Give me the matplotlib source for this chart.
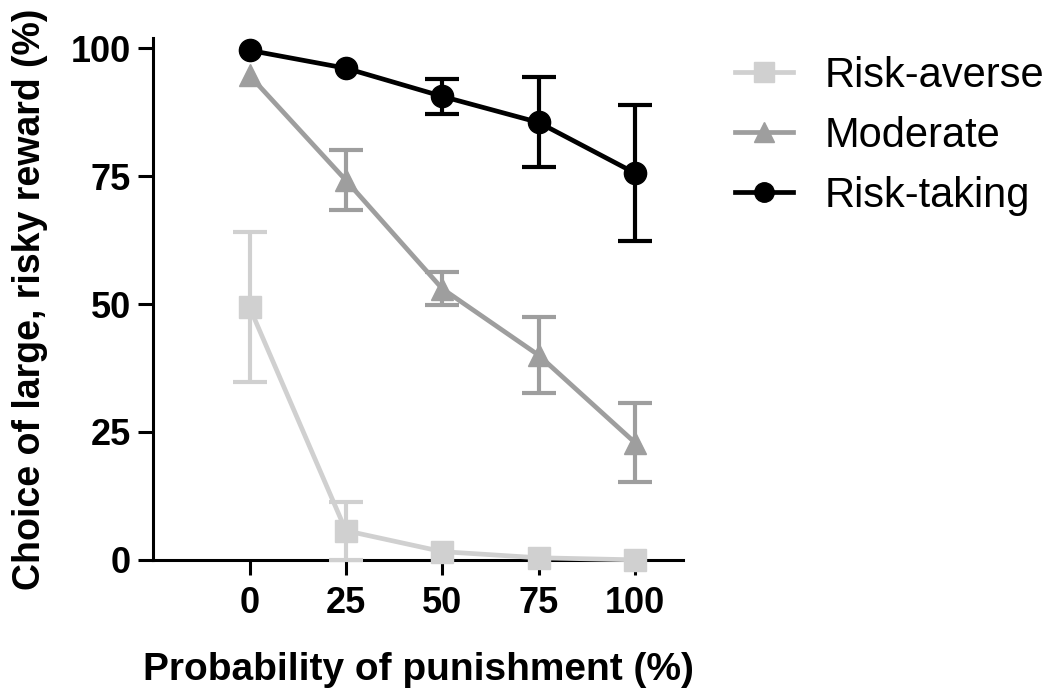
import matplotlib.pyplot as plt
from matplotlib.lines import Line2D

plt.rcParams['font.family'] = ['Liberation Sans', 'DejaVu Sans']

# Probability of punishment (%)
prob = [0, 25, 50, 75, 100]

# Mean choice of large, risky reward (%) and SEM per group (0 = bar hidden by marker)
averse_mean = [49.4, 5.7, 1.6, 0.4, 0.0]
averse_err = [14.6, 5.7, 0.0, 0.0, 0.0]

moderate_mean = [94.7, 74.2, 53.0, 40.0, 22.9]
moderate_err = [0.0, 5.9, 3.2, 7.4, 7.7]

taking_mean = [99.6, 96.1, 90.6, 85.5, 75.6]
taking_err = [0.0, 0.0, 3.4, 8.8, 13.3]

labels = ['Risk-averse', 'Moderate', 'Risk-taking']
colors = ['#d0d0d0', '#9e9e9e', '#000000']
markers = ['s', '^', 'o']

fig = plt.figure(figsize=(10.56, 6.92), dpi=100)
ax = fig.add_axes([0.145, 0.191, 0.502, 0.754])

series = [(averse_mean, averse_err), (moderate_mean, moderate_err), (taking_mean, taking_err)]
for i, (mean, err) in enumerate(series):
    # only draw bars where the SEM sticks out past the marker
    ex = [x for x, e in zip(prob, err) if e > 0]
    ey = [m for m, e in zip(mean, err) if e > 0]
    ee = [e for e in err if e > 0]
    ax.errorbar(ex, ey, yerr=ee, fmt='none', ecolor=colors[i], elinewidth=3.0,
                capsize=12, capthick=3.0, clip_on=False, zorder=3 + i)
    ax.plot(prob, mean, color=colors[i], lw=3.4, marker=markers[i], markersize=16,
            markeredgecolor=colors[i], clip_on=False, zorder=3 + i)

ax.set_xlim(-25, 112.5)
ax.set_ylim(0, 102)
ax.set_xticks(prob)
ax.set_yticks([0, 25, 50, 75, 100])

for side in ['top', 'right']:
    ax.spines[side].set_visible(False)
for side in ['left', 'bottom']:
    ax.spines[side].set_linewidth(2.2)

ax.tick_params(axis='both', direction='out', length=11, width=2.2, labelsize=26)
ax.tick_params(axis='x', pad=8)
ax.tick_params(axis='y', pad=5)
for lbl in ax.get_xticklabels() + ax.get_yticklabels():
    lbl.set_fontweight('bold')

ax.set_xlabel('Probability of punishment (%)', fontsize=28, fontweight='bold', labelpad=22)
ax.set_ylabel('Choice of large, risky reward (%)', fontsize=27, fontweight='bold', labelpad=16)

handles = [Line2D([], [], color=c, marker=m, lw=3.4, markersize=14, markeredgecolor=c)
           for c, m in zip(colors, markers)]
fig.legend(handles, labels, loc='upper left', bbox_to_anchor=(735 / 1056, 1 - 56 / 692),
           frameon=False, fontsize=30, handlelength=1.4, handletextpad=0.75,
           labelspacing=0.48, borderpad=0, borderaxespad=0)

fig.savefig('out.png', dpi=100)
